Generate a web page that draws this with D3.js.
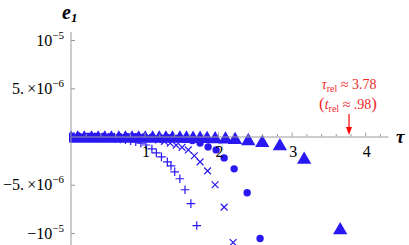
<!DOCTYPE html>
<html>
<head>
<meta charset="utf-8">
<script src="https://cdn.jsdelivr.net/npm/d3@7"></script>
<style>
  body { margin: 0; background: #fff; }
</style>
</head>
<body>
<svg id="chart" width="409" height="245"></svg>
<script>
// values of e1 are in units of 1e-6
var plusTau = [0.04,0.11,0.18,0.25,0.32,0.39,0.46,0.53,0.60,0.67,0.74,0.81,0.88,0.95,1.02,1.10,1.16,1.23,1.31,1.36,1.41,1.48,1.55,1.63,1.71];
var plusE   = [0,-0.01,-0.02,-0.03,-0.05,-0.07,-0.10,-0.14,-0.19,-0.25,-0.33,-0.43,-0.55,-0.70,-0.88,-1.29,-1.70,-2.11,-2.63,-3.04,-3.66,-4.38,-5.52,-6.96,-9.23];

var crossTau = [0.00,0.07,0.15,0.23,0.31,0.39,0.47,0.55,0.63,0.71,0.79,0.87,0.95,1.03,1.11,1.19,1.27,1.35,1.43,1.51,1.595,1.677,1.755,1.857,1.959,2.082,2.204];
var crossE   = [0,0,0,0,0,-0.01,-0.01,-0.02,-0.02,-0.03,-0.05,-0.07,-0.10,-0.15,-0.24,-0.36,-0.52,-0.70,-0.90,-1.12,-1.39,-2.0,-2.63,-3.56,-5.0,-7.32,-10.98];

var circleTau = [0.00,0.11,0.22,0.33,0.44,0.55,0.66,0.77,0.88,0.99,1.10,1.21,1.32,1.43,1.54,1.65,1.755,1.864,1.973,2.082,2.218,2.395,2.571];
var circleE   = [0,0,0,0,0,-0.01,-0.01,-0.02,-0.03,-0.04,-0.06,-0.09,-0.13,-0.19,-0.28,-0.42,-0.67,-1.08,-1.39,-2.22,-3.35,-5.83,-10.57];

var triTau = [0.00,0.09,0.18,0.28,0.37,0.46,0.55,0.65,0.74,0.83,0.92,1.01,1.11,1.20,1.29,1.38,1.48,1.57,1.66,1.755,1.85,1.96,2.10,2.23,2.41,2.60,2.84,3.17,3.66];
var triE   = [0,0,0,0,0,0,0,0,0,0,0,0,0,0,0,0,0,-0.01,-0.02,-0.03,-0.05,-0.07,-0.10,-0.15,-0.27,-0.46,-0.80,-2.2,-9.5];

var xMajor = [1, 2, 3, 4];
var xMinor = [0.2,0.4,0.6,0.8,1.2,1.4,1.6,1.8,2.2,2.4,2.6,2.8,3.2,3.4,3.6,3.8,4.2];
var yTicks = [10, 5, -5, -10];
var yLabels = [
  { base: "10",                      exp: "\u22125" },
  { base: "5.\u2009\u00d710",         exp: "\u22126" },
  { base: "\u22125.\u2009\u00d710",   exp: "\u22126" },
  { base: "\u221210",                exp: "\u22125" }
];

var relTau = 3.78;
var blue = "#2a18f2";
var serif = "Liberation Serif";

var svg = d3.select("#chart");

var x = d3.scaleLinear().domain([0, 4.31]).range([71, 388]);
var y = d3.scaleLinear().domain([-10, 10]).range([233, 40]);
var y0 = y(0);

// clip for the plotted points
svg.append("defs").append("clipPath")
    .attr("id", "plot-clip")
    .append("rect")
    .attr("x", 69).attr("y", 0)
    .attr("width", 340).attr("height", 245);

var pts = svg.append("g").attr("clip-path", "url(#plot-clip)");

function zip(a, b) { return a.map(function(v, i) { return { t: v, e: b[i] }; }); }

// + markers
pts.append("g").selectAll("path")
    .data(zip(plusTau, plusE))
    .enter().append("path")
    .attr("transform", d => "translate(" + x(d.t) + "," + y(d.e) + ")")
    .attr("d", "M-4.3,0H4.3M0,-4.3V4.3")
    .style("stroke", blue).style("stroke-width", 1.2).style("fill", "none");

// x markers
pts.append("g").selectAll("path")
    .data(zip(crossTau, crossE))
    .enter().append("path")
    .attr("transform", d => "translate(" + x(d.t) + "," + y(d.e) + ")")
    .attr("d", "M-3.4,-3.4L3.4,3.4M-3.4,3.4L3.4,-3.4")
    .style("stroke", blue).style("stroke-width", 1.2).style("fill", "none");

// filled circles
pts.append("g").selectAll("circle")
    .data(zip(circleTau, circleE))
    .enter().append("circle")
    .attr("cx", d => x(d.t))
    .attr("cy", d => y(d.e))
    .attr("r", 3.7)
    .style("fill", blue);

// filled triangles (centred on their bounding box)
var tri = d3.symbol().type(d3.symbolTriangle).size(88);
pts.append("g").selectAll("path")
    .data(zip(triTau, triE))
    .enter().append("path")
    .attr("transform", d => "translate(" + x(d.t) + "," + (y(d.e) + 2) + ")")
    .attr("d", tri)
    .style("fill", blue);

// X axis (ticks point up)
var xAxisG = svg.append("g")
    .attr("transform", "translate(0," + y0 + ")")
    .call(d3.axisBottom(x).tickValues(xMajor).tickSizeInner(-4).tickSizeOuter(0).tickPadding(9).tickFormat(d3.format("d")));
xAxisG.select(".domain").style("stroke", "#9a9a9a");
xAxisG.selectAll(".tick line").style("stroke", "#9a9a9a");
xAxisG.selectAll("text").style("font-family", serif).style("font-size", "16px")
    .style("fill", "#000").attr("dx", "1");

var xMinorG = svg.append("g")
    .attr("transform", "translate(0," + y0 + ")")
    .call(d3.axisBottom(x).tickValues(xMinor).tickSizeInner(-2.5).tickSizeOuter(0).tickFormat(""));
xMinorG.select(".domain").remove();
xMinorG.selectAll(".tick line").style("stroke", "#9a9a9a");

// Y axis (ticks point right)
var yAxisG = svg.append("g")
    .attr("transform", "translate(" + x(0) + ",0)")
    .call(d3.axisLeft(y).tickValues(yTicks).tickSizeInner(-4).tickSizeOuter(0).tickFormat(""));
yAxisG.select(".domain").remove();
yAxisG.selectAll(".tick line").style("stroke", "#9a9a9a");
yAxisG.append("line")
    .attr("x1", 0).attr("x2", 0)
    .attr("y1", 32).attr("y2", 245)
    .style("stroke", "#9a9a9a");

var yLab = svg.append("g").selectAll("text")
    .data(yTicks)
    .enter().append("text")
    .attr("x", x(0) - 7)
    .attr("y", d => y(d) + 5.5)
    .attr("text-anchor", "end")
    .style("font-family", serif)
    .style("font-size", "16px")
    .style("fill", "#000");
yLab.append("tspan").text((d, i) => yLabels[i].base);
yLab.append("tspan").attr("dy", -7).style("font-size", "11px").text((d, i) => yLabels[i].exp);

// axis titles
var eLab = svg.append("text")
    .attr("x", 62).attr("y", 19)
    .style("font-family", serif)
    .style("font-size", "20px").style("font-weight", "bold").style("font-style", "italic");
eLab.append("tspan").text("e");
eLab.append("tspan").attr("dy", 3).style("font-size", "13px").text("1");

svg.append("text")
    .attr("x", 396).attr("y", 143)
    .style("font-family", serif)
    .style("font-size", "19px").style("font-weight", "bold").style("font-style", "italic")
    .text("\u03c4");

// relaxation time annotation
var red = "#ee2b2b";
var ax = x(relTau);
var l1 = svg.append("text")
    .attr("x", ax).attr("y", 89)
    .attr("text-anchor", "middle")
    .style("font-family", serif)
    .style("font-size", "14px").style("fill", red);
l1.append("tspan").style("font-style", "italic").text("\u03c4");
l1.append("tspan").attr("dy", 3).style("font-size", "10px").text("rel");
l1.append("tspan").attr("dy", -3).text(" \u2248 3.78");

var l2 = svg.append("text")
    .attr("x", ax - 1).attr("y", 109)
    .attr("text-anchor", "middle")
    .style("font-family", serif)
    .style("font-size", "14px").style("fill", red);
l2.append("tspan").style("font-size", "17px").text("(");
l2.append("tspan").style("font-style", "italic").text("t");
l2.append("tspan").attr("dy", 3).style("font-size", "10px").text("rel");
l2.append("tspan").attr("dy", -3).text(" \u2248 .98");
l2.append("tspan").style("font-size", "17px").text(")");

svg.append("line")
    .attr("x1", ax).attr("x2", ax)
    .attr("y1", 114).attr("y2", 128)
    .style("stroke", "#ff0000").style("stroke-width", 1.2);
svg.append("path")
    .attr("d", "M" + (ax - 3) + ",127L" + (ax + 3) + ",127L" + ax + ",135Z")
    .style("fill", "#ff0000");
</script>
</body>
</html>
